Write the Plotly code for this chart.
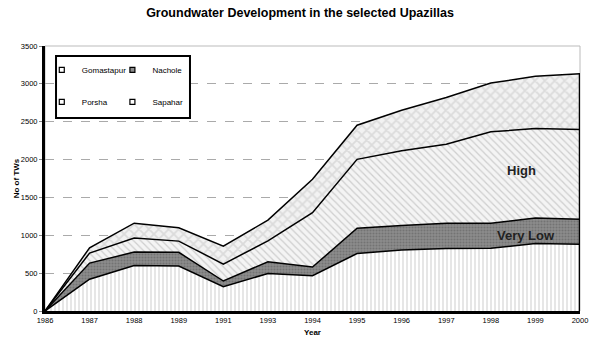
import plotly.graph_objects as go

years = ["1986", "1987", "1988", "1989", "1991", "1993", "1994",
         "1995", "1996", "1997", "1998", "1999", "2000"]
gomastapur = [0, 420, 600, 595, 320, 495, 465, 760, 805, 825, 830, 890, 880]
nachole = [0, 213, 178, 180, 76, 155, 115, 333, 325, 335, 330, 337, 333]
porsha = [0, 132, 185, 148, 224, 275, 718, 910, 985, 1043, 1206, 1183, 1184]
sapahar = [0, 70, 197, 177, 237, 275, 442, 451, 537, 616, 644, 690, 738]
y_ticks = [0, 500, 1000, 1500, 2000, 2500, 3000, 3500]

FONT = "Liberation Sans, Arial, sans-serif"

fig = go.Figure()

series = [
    ("Gomastapur", gomastapur, dict(shape="|", fgcolor="#9a9a9a", bgcolor="#ffffff", size=4, solidity=0.25)),
    ("Nachole", nachole, dict(shape=".", fgcolor="#5a5a5a", bgcolor="#8c8c8c", size=3, solidity=0.4)),
    ("Porsha", porsha, dict(shape="\\", fgcolor="#a8a8a8", bgcolor="#f4f4f4", size=5, solidity=0.25)),
    ("Sapahar", sapahar, dict(shape="x", fgcolor="#c4c4c4", bgcolor="#f2f2f2", size=7, solidity=0.45)),
]
for name, vals, pattern in series:
    fig.add_trace(go.Scatter(
        x=years, y=vals, name=name, mode="lines",
        stackgroup="one", line=dict(color="black", width=1.5),
        fillpattern=pattern, showlegend=False,
    ))

# right edge of the stacked area
total_last = gomastapur[-1] + nachole[-1] + porsha[-1] + sapahar[-1]
fig.add_trace(go.Scatter(
    x=[years[-1], years[-1]], y=[0, total_last], mode="lines",
    line=dict(color="black", width=2.5), showlegend=False, hoverinfo="skip",
))

# legend entries: small squares as in the original
legend_marks = [
    ("Gomastapur", "square-open", "legend"),
    ("Porsha", "square-open", "legend"),
    ("Nachole", "square", "legend2"),
    ("Sapahar", "square-open", "legend2"),
]
for name, sym, leg in legend_marks:
    fig.add_trace(go.Scatter(
        x=[None], y=[None], mode="markers", name=name, legend=leg, legendgroup=name,
        marker=dict(symbol=sym, size=5, color="#8c8c8c" if sym == "square" else "black",
                    line=dict(color="black", width=1.2)),
    ))

fig.update_xaxes(
    type="category", range=[0, len(years) - 1], automargin=False,
    showline=True, linecolor="black", linewidth=3,
    showgrid=False, ticks="", tickfont=dict(size=7.5, family=FONT, color="black"),
    title=dict(text="<b>Year</b>", font=dict(size=8, family=FONT, color="black"), standoff=6),
)
fig.update_yaxes(
    range=[0, 3500], tickvals=y_ticks, automargin=False,
    showline=True, linecolor="black", linewidth=3,
    showgrid=True, gridcolor="#aaaaaa", griddash="dash", gridwidth=1,
    zeroline=False, ticks="outside", ticklen=3, tickcolor="#888888",
    tickfont=dict(size=7.5, family=FONT, color="black"),
    title=dict(text="<b>No of TWs</b>", font=dict(size=8, family=FONT, color="black"), standoff=0),
)

fig.add_shape(type="rect", xref="paper", yref="paper", x0=0, x1=1, y0=0, y1=1,
              line=dict(color="#bbbbbb", width=1), layer="below")
# legend frame
fig.add_shape(type="rect", xref="paper", yref="paper", x0=0.0206, x1=0.271,
              y0=0.728, y1=0.962, line=dict(color="black", width=2),
              fillcolor="white", layer="above")

legend_style = dict(
    font=dict(size=8, family=FONT, color="black"), bgcolor="rgba(0,0,0,0)",
    borderwidth=0, tracegroupgap=13, traceorder="grouped",
    xanchor="left", yanchor="top", itemwidth=30,
)
fig.update_layout(
    legend=dict(x=-0.006, y=0.965, **legend_style),
    legend2=dict(x=0.126, y=0.965, **legend_style),
)

fig.add_annotation(x=10.68, y=1850, text="<b>High</b>", showarrow=False,
                   font=dict(size=13, family=FONT, color="#222222"))
fig.add_annotation(x=10.78, y=1000, text="<b>Very Low</b>", showarrow=False,
                   font=dict(size=13, family=FONT, color="#222222"))

fig.update_layout(
    width=600, height=346,
    margin=dict(l=45, r=20, t=46, b=35),
    paper_bgcolor="white", plot_bgcolor="white",
    title=dict(text="<b>Groundwater Development in the selected Upazillas</b>",
               x=0.5, xanchor="center", y=0.975, yanchor="top",
               font=dict(size=12.5, family=FONT, color="black")),
    showlegend=True,
)

fig.write_html("out.html", config={"displayModeBar": False},
               post_script="document.body.style.margin='0';")
